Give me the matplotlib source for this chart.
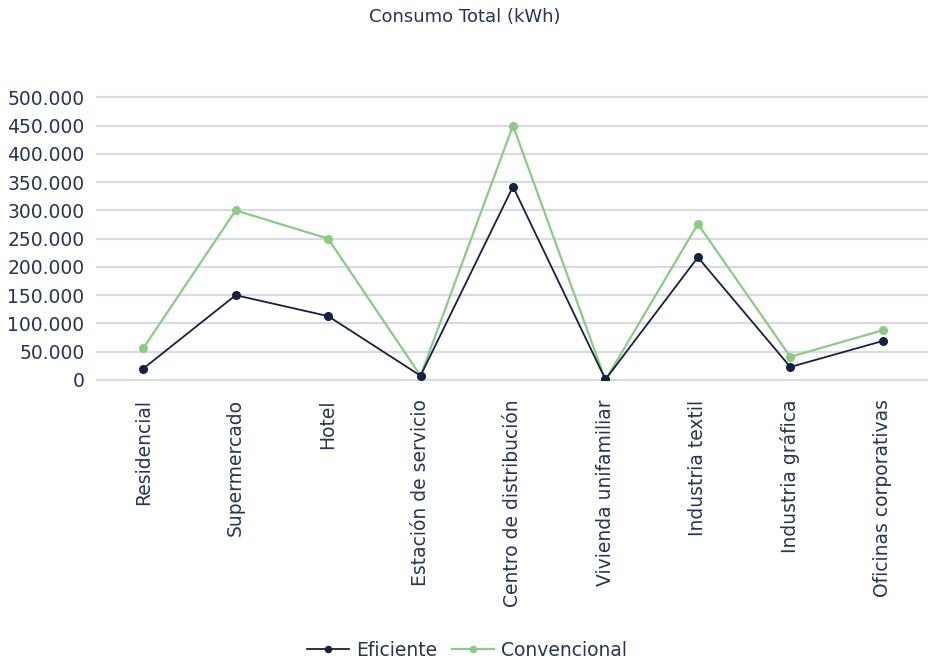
import matplotlib
matplotlib.use("Agg")
import matplotlib.pyplot as plt
from matplotlib.ticker import FuncFormatter

NAVY = "#14223f"
GREEN = "#8ccb86"
TEXT = "#263552"
GRID = "#d8dce1"

categorias = ["Residencial", "Supermercado", "Hotel", "Estación de servicio",
              "Centro de distribución", "Vivienda unifamiliar", "Industria textil",
              "Industria gráfica", "Oficinas corporativas"]
eficiente = [20000, 150000, 113000, 7500, 342000, 1000, 217000, 23000, 69000]
convencional = [56000, 300000, 250000, 7500, 450000, 0, 276000, 41000, 88000]
yticks = list(range(0, 500001, 50000))

plt.rcParams["font.family"] = ["DejaVu Sans"]

fig = plt.figure(figsize=(9.29, 6.62), dpi=100, facecolor="white")
ax = fig.add_axes([0.1044, 0.426, 0.8956, 0.427])

x = range(len(categorias))
ax.plot(x, eficiente, color=NAVY, lw=1.3, marker="o", ms=5.5, label="Eficiente", zorder=3)
ax.plot(x, convencional, color=GREEN, lw=1.6, marker="o", ms=5.5, label="Convencional", zorder=2)

ax.set_xlim(-0.5, len(categorias) - 0.5)
ax.set_ylim(0, 500000)
ax.set_yticks(yticks)
ax.yaxis.set_major_formatter(FuncFormatter(lambda v, p: f"{int(v):,}".replace(",", ".")))
ax.set_xticks(list(x))
ax.set_xticklabels(categorias, rotation=90, ha="center", va="top")
ax.tick_params(axis="both", length=0, labelsize=13.5, colors=TEXT)
ax.tick_params(axis="x", pad=14)
ax.tick_params(axis="y", pad=9)

ax.yaxis.grid(True, color=GRID, lw=1.6)
for gl in ax.get_ygridlines():
    gl.set_clip_on(False)
ax.set_axisbelow(True)
for sp in ax.spines.values():
    sp.set_visible(False)

fig.text(0.5, 0.974, "Consumo Total (kWh)", ha="center", va="center",
         fontsize=13, color=TEXT)

fig.legend(loc="center", bbox_to_anchor=(0.503, 0.018), ncol=2, frameon=False,
           fontsize=13.5, labelcolor=TEXT, handlelength=2.2, handletextpad=0.4,
           columnspacing=0.8, markerscale=0.8)

fig.savefig("out.png", dpi=100, facecolor="white")
